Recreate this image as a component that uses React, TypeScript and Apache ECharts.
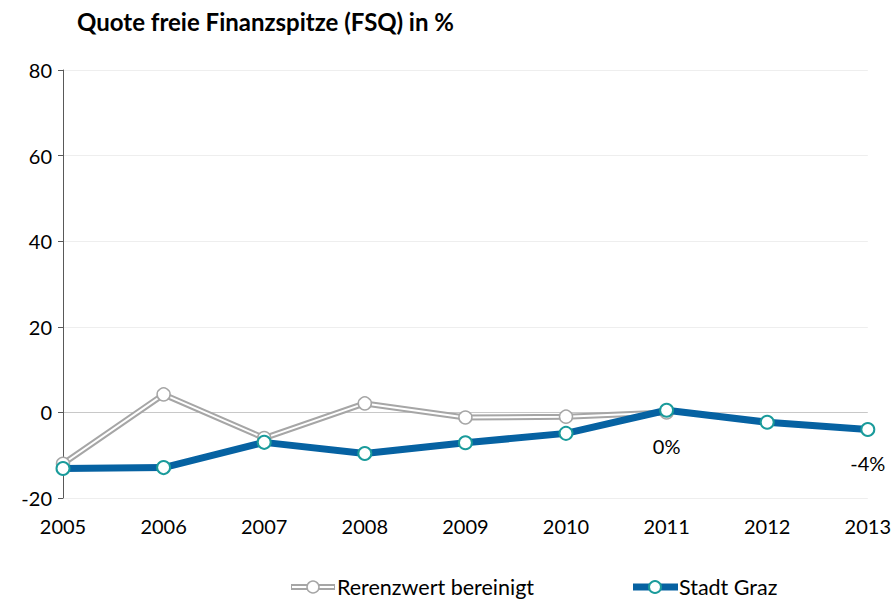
import React, { useEffect, useRef } from "react";
import * as echarts from "echarts";

// Jahre und Werte (in %)
const years = ["2005", "2006", "2007", "2008", "2009", "2010", "2011", "2012", "2013"];
const referenceValues = [-12, 4.2, -6, 2.1, -1.2, -1, 0, null, null];
const grazValues = [-13.1, -12.9, -7, -9.6, -7.1, -4.9, 0.5, -2.3, -4];
const yTicks = { min: -20, max: 80, interval: 20 };

const FONT = "Lato, 'Open Sans', sans-serif";
const GRAY = "#a6a6a6";
const BLUE = "#0662a2";
const TEAL = "#1a9b9b";

export default function App() {
  const ref = useRef<HTMLDivElement>(null);

  useEffect(() => {
    if (!ref.current) return;
    const chart = echarts.init(ref.current, null, { renderer: "svg" });

    const lastRef = 6;
    const lastGraz = grazValues.length - 1;

    const valueLabel = {
      show: true,
      position: "bottom",
      distance: 16,
      formatter: (p: any) => `${Math.round(p.value)}%`,
      fontSize: 20,
      color: "#000",
      fontFamily: FONT,
    };

    chart.setOption({
      animation: false,
      backgroundColor: "#ffffff",
      textStyle: { fontFamily: FONT },
      title: {
        text: "Quote freie Finanzspitze (FSQ) in %",
        left: 72,
        top: 4,
        textStyle: { fontFamily: FONT, fontSize: 24, fontWeight: "bold", color: "#000" },
      },
      legend: { show: false },
      grid: { left: 63, right: 26, top: 70, bottom: 106, containLabel: false },
      xAxis: {
        type: "category",
        data: years,
        boundaryGap: false,
        axisLine: { show: false },
        axisTick: { show: false },
        axisLabel: { color: "#000", fontSize: 20, fontFamily: FONT, margin: 18 },
        splitLine: { show: false },
      },
      yAxis: {
        type: "value",
        min: yTicks.min,
        max: yTicks.max,
        interval: yTicks.interval,
        axisLine: { show: true, lineStyle: { color: "#595959", width: 1 } },
        axisTick: { show: true, length: 5, lineStyle: { color: "#595959" } },
        axisLabel: { color: "#000", fontSize: 20, fontFamily: FONT, margin: 11 },
        splitLine: {
          show: true,
          lineStyle: {
            color: ["#eeeeee", "#c8c8c8", "#eeeeee", "#eeeeee", "#eeeeee", "#eeeeee"],
            width: 1,
          },
        },
      },
      series: [
        {
          name: "Rerenzwert bereinigt (Rand)",
          type: "line",
          data: referenceValues,
          showSymbol: false,
          lineStyle: { color: GRAY, width: 6 },
          z: 2,
          silent: true,
        },
        {
          name: "Rerenzwert bereinigt",
          type: "line",
          data: referenceValues.map((v, i) => (i === lastRef ? { value: v, label: valueLabel } : v)),
          symbol: "circle",
          symbolSize: 13,
          lineStyle: { color: "#ffffff", width: 2 },
          itemStyle: { color: "#ffffff", borderColor: GRAY, borderWidth: 1.5 },
          z: 3,
        },
        {
          name: "Stadt Graz",
          type: "line",
          data: grazValues.map((v, i) => (i === lastGraz ? { value: v, label: valueLabel } : v)),
          symbol: "circle",
          symbolSize: 13,
          lineStyle: { color: BLUE, width: 7 },
          itemStyle: { color: "#ffffff", borderColor: TEAL, borderWidth: 2 },
          z: 4,
        },
      ],
      graphic: [
        // Legende: Referenzwert (Doppellinie)
        { type: "line", shape: { x1: 291, y1: 587, x2: 335, y2: 587 }, style: { stroke: GRAY, lineWidth: 6 } },
        { type: "line", shape: { x1: 292, y1: 587, x2: 334, y2: 587 }, style: { stroke: "#fff", lineWidth: 2 } },
        { type: "circle", shape: { cx: 313, cy: 587, r: 6 }, style: { fill: "#fff", stroke: GRAY, lineWidth: 1.5 } },
        {
          type: "text",
          x: 337,
          y: 587,
          style: { text: "Rerenzwert bereinigt", fill: "#000", font: `21.5px ${FONT}`, textVerticalAlign: "middle" },
        },
        // Legende: Stadt Graz
        { type: "line", shape: { x1: 633, y1: 587, x2: 678, y2: 587 }, style: { stroke: BLUE, lineWidth: 7 } },
        { type: "circle", shape: { cx: 655, cy: 587, r: 6 }, style: { fill: "#fff", stroke: TEAL, lineWidth: 2 } },
        {
          type: "text",
          x: 679,
          y: 587,
          style: { text: "Stadt Graz", fill: "#000", font: `21.5px ${FONT}`, textVerticalAlign: "middle" },
        },
      ],
    });

    return () => chart.dispose();
  }, []);

  return (
    <div
      ref={ref}
      style={{ position: "fixed", left: 0, top: 0, width: 894, height: 604 }}
    />
  );
}
